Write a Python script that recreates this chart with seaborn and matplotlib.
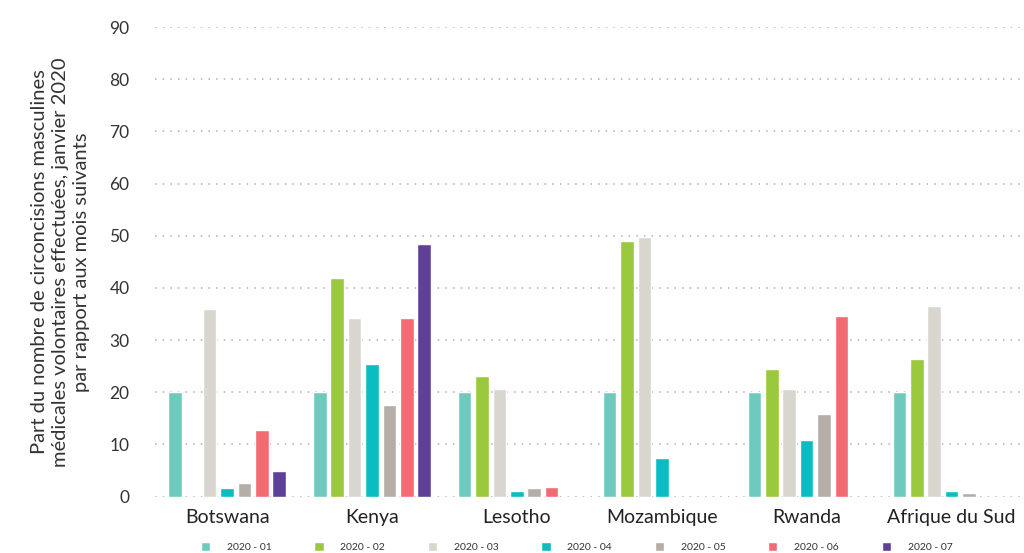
import numpy as np
import pandas as pd
import matplotlib
matplotlib.use("Agg")
import matplotlib.pyplot as plt
import seaborn as sns

countries = ["Botswana", "Kenya", "Lesotho", "Mozambique", "Rwanda", "Afrique du Sud"]
months = ["2020 - 01", "2020 - 02", "2020 - 03", "2020 - 04", "2020 - 05", "2020 - 06", "2020 - 07"]

# Share per month (NaN = no data for that month)
m01 = [20, 20, 20, 20, 20, 20]
m02 = [np.nan, 41.9, 23.1, 49.0, 24.5, 26.4]
m03 = [35.9, 34.2, 20.6, 49.8, 20.6, 36.5]
m04 = [1.6, 25.4, 1.0, 7.4, 10.8, 1.1]
m05 = [2.7, 17.6, 1.7, np.nan, 15.8, 0.7]
m06 = [12.8, 34.2, 1.9, np.nan, 34.6, np.nan]
m07 = [4.9, 48.4, np.nan, np.nan, np.nan, np.nan]

palette = ["#70c9be", "#9bc93e", "#d9d6cf", "#0bbcc2", "#b5aea8", "#f26b73", "#5f4099"]

series = [m01, m02, m03, m04, m05, m06, m07]
rows = []
for month, vals in zip(months, series):
    for c, v in zip(countries, vals):
        rows.append({"pays": c, "mois": month, "valeur": v})
df = pd.DataFrame(rows).dropna()

sns.set_theme(style="white")
plt.rcParams["font.family"] = ["Lato", "DejaVu Sans"]

fig = plt.figure(figsize=(10.24, 5.53), dpi=100)
ax = fig.add_axes([0.151, 0.102, 0.849, 0.849])

sns.barplot(data=df, x="pays", y="valeur", hue="mois", order=countries,
            hue_order=months, palette=palette, width=0.84, gap=0.22,
            saturation=1, ax=ax, legend=True)

ax.set_ylim(0, 90)
ax.set_xlim(-0.5, len(countries) - 0.5)
ax.set_yticks(range(0, 91, 10))
ax.yaxis.grid(True, linestyle=(0, (1, 4)), color="#b0b0b0", linewidth=1.1)
ax.set_axisbelow(True)
for s in ax.spines.values():
    s.set_visible(False)
ax.tick_params(axis="y", length=0, pad=18, labelsize=12.5, labelcolor="#333333")
ax.tick_params(axis="x", length=0, pad=9, labelsize=14, labelcolor="#222222")
ax.set_xlabel("")
ax.set_ylabel("Part du nombre de circoncisions masculines\n"
              "médicales volontaires effectuées, janvier 2020\n"
              "par rapport aux mois suivants",
              fontsize=14.5, color="#333333", linespacing=1.3, labelpad=14)

handles, labels = ax.get_legend_handles_labels()
ax.legend_.remove()
fig.legend(handles, labels, loc="center", bbox_to_anchor=(0.563, 0.011), ncol=7,
           frameon=False, fontsize=7.5, handlelength=0.9, handleheight=0.9,
           handletextpad=1.6, columnspacing=4.1, labelcolor="#333333")

fig.savefig("out.png", dpi=100)
